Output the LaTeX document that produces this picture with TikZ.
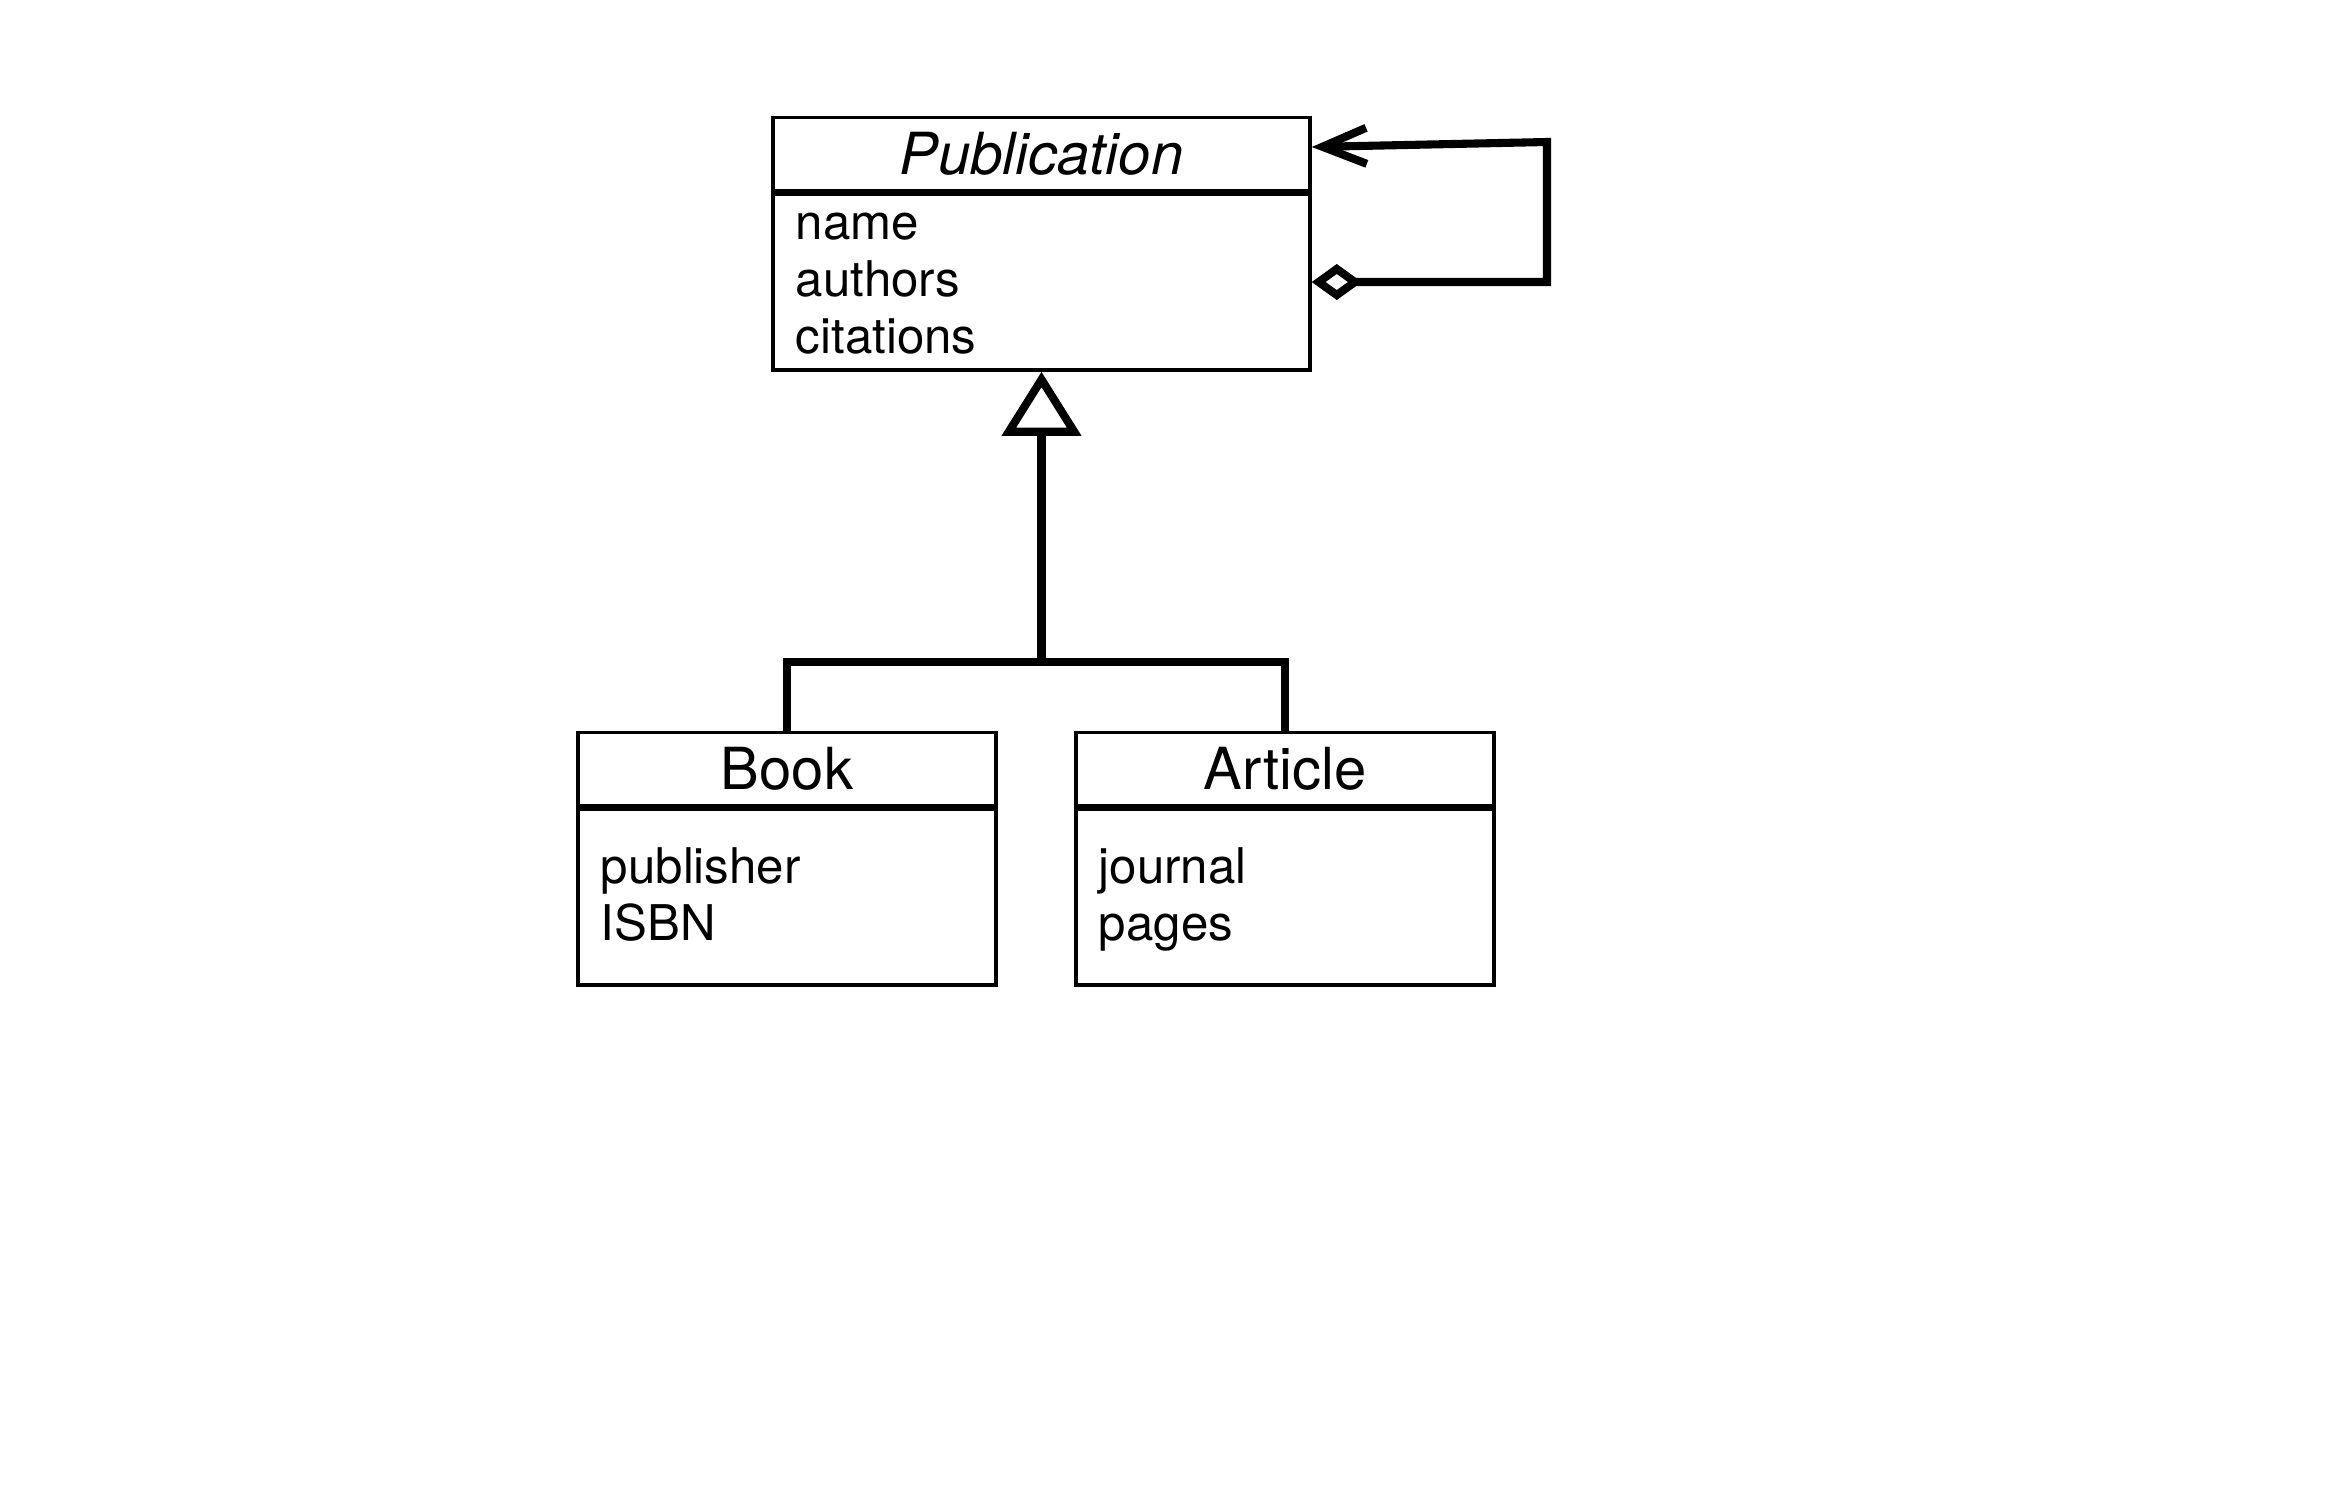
\documentclass[tikz,border=0pt]{standalone}
\usepackage{fontspec}
\setmainfont{TeX Gyre Heros}
\usepackage{tikz}
\usetikzlibrary{positioning}
\usetikzlibrary{arrows.meta}
\tikzstyle{head} = [rectangle, draw, line width=1pt, inner sep=0pt,
minimum height=0.73cm, font=\fontsize{16.5}{19}\selectfont]
\tikzstyle{body} = [rectangle, draw, line width=1pt, inner sep=0pt, minimum height=1.76cm]
\tikzstyle{attr} = [inner sep=0pt, text width=4cm, align=left, anchor=base west,
font=\fontsize{14}{16.2}\selectfont]
\tikzstyle{line} = [draw, line width=2.3pt]

\begin{document}
\begin{tikzpicture}
    \useasboundingbox (0,0) rectangle (23.29,-15.04);
    % nodes
    \node [head, minimum width=5.37cm] (pub) at (10.415,-1.54) {\itshape Publication};
    \node [body, minimum width=5.37cm, below=0pt of pub] (pubattr) {};
    \node [attr] (pubtxt) at ([shift={(0.24,-0.47)}]pubattr.north west) {name\\authors\\citations};
    \node [head, minimum width=4.18cm] (book) at (7.87,-7.69) {Book};
    \node [body, minimum width=4.18cm, below=0pt of book] (bookattr) {};
    \node [attr] (booktxt) at ([shift={(0.24,-0.76)}]bookattr.north west) {publisher\\ISBN};
    \node [head, minimum width=4.18cm] (art) at (12.85,-7.69) {Article};
    \node [body, minimum width=4.18cm, below=0pt of art] (artattr) {};
    \node [attr] (arttxt) at ([shift={(0.24,-0.76)}]artattr.north west) {journal\\pages};
    \coordinate (fork) at (pubattr.south |- 0,-6.62);
    \coordinate (loop) at (15.47,-1.42);

    % edges
    \path [line, -{Triangle[open, length=0.64cm, width=0.78cm]}] (fork) -- (pubattr.south);
    \draw [line] (book.north) |- (fork) -| (art.north);
    \draw [line, {Diamond[open, length=0.5cm, width=0.36cm]}-{Straight Barb[length=0.44cm, width=0.36cm]}]
        (pubattr.east) -| (loop) -- ([yshift=0.07cm]pub.east);
\end{tikzpicture}
\end{document}
